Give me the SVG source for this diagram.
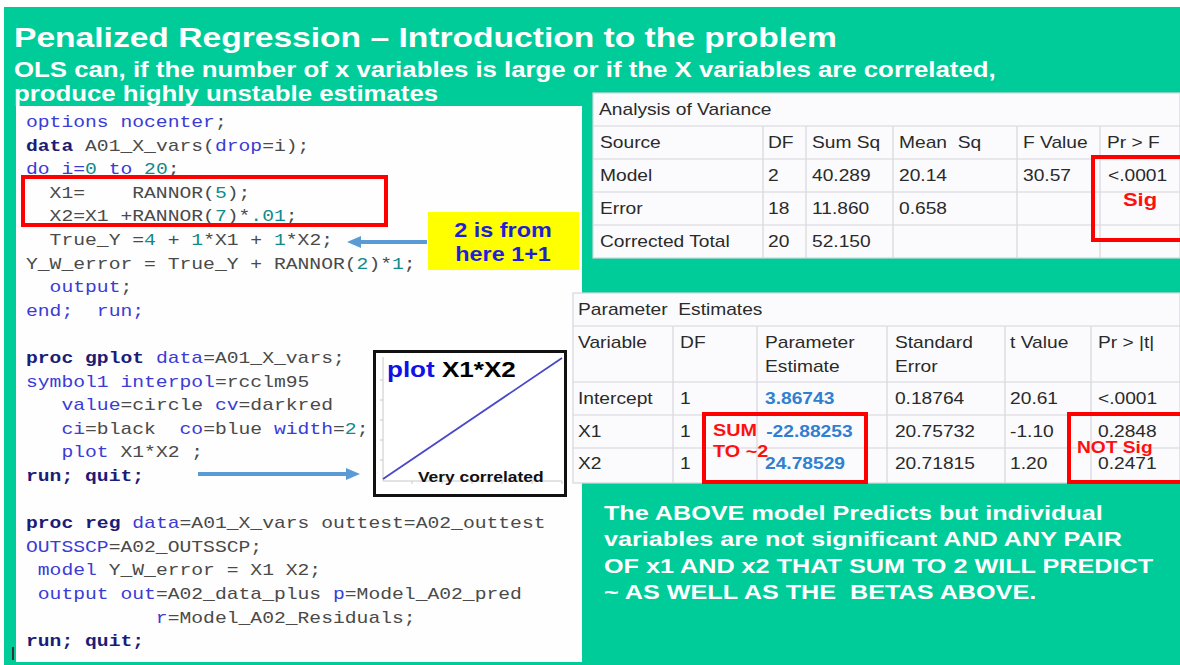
<svg xmlns="http://www.w3.org/2000/svg" width="1180" height="665" viewBox="0 0 1180 665">
<defs>
<style>
.ttl{font-family:"Liberation Sans",Arial,sans-serif;font-weight:bold;fill:#ffffff}
.code{font-family:"Liberation Mono","Courier New",monospace;font-size:16.4px;fill:#4a4a4a}
.kw{fill:#3b3bd6}
.nm{fill:#128a8a}
.bk{fill:#1c1c78;font-weight:bold}
.tb{font-family:"Liberation Sans",Arial,sans-serif;font-size:16px;fill:#2a2a2a}
.bv{fill:#2f80d0;font-weight:bold}
.red{font-family:"Liberation Sans",Arial,sans-serif;font-weight:bold;fill:#ff1010}
.grid{stroke:#d6d6dc;stroke-width:1.2;fill:none}
.rbox{fill:none;stroke:#ff0000;stroke-width:4}
.arr{stroke:#5b9bd5;stroke-width:4;fill:none}
.ax{stroke:#c8c8c8;stroke-width:1;fill:none}
</style>
<marker id="ah" viewBox="0 0 14 12" refX="0" refY="6" markerWidth="14" markerHeight="12" markerUnits="userSpaceOnUse" orient="auto">
<path d="M0,0 L14,6 L0,12 Z" fill="#5b9bd5"/>
</marker>
</defs>

<rect x="0" y="0" width="1180" height="665" fill="#ffffff"/>
<rect x="4" y="7" width="1176" height="658" fill="#00cc99"/>

<g id="title">
<g transform="scale(1.2 1)">
<text class="ttl" x="11.67" y="47" font-size="28">Penalized Regression – Introduction to the problem</text>
<text class="ttl" x="11.67" y="77" font-size="21.5">OLS can, if the number of x variables is large or if the X variables are correlated,</text>
<text class="ttl" x="11.67" y="101" font-size="21.5">produce highly unstable estimates</text>
</g>
</g>

<g id="code-panel">
<rect x="16" y="106" width="566" height="556" fill="#fefefe"/>
<rect x="12" y="647" width="2" height="13" fill="#333333"/>
<g transform="scale(1.2 1)">
<text class="code" xml:space="preserve" x="21.67" y="127"><tspan class="kw">options nocenter</tspan>;</text>
<text class="code" xml:space="preserve" x="21.67" y="150.6"><tspan class="bk">data</tspan> A01_X_vars(<tspan class="kw">drop</tspan>=i);</text>
<text class="code" xml:space="preserve" x="21.67" y="174.2"><tspan class="kw">do i=</tspan><tspan class="nm">0</tspan> <tspan class="kw">to</tspan> <tspan class="nm">20</tspan>;</text>
<text class="code" xml:space="preserve" x="21.67" y="197.8">  X1=    RANNOR(<tspan class="nm">5</tspan>);</text>
<text class="code" xml:space="preserve" x="21.67" y="221.4">  X2=X1 +RANNOR(<tspan class="nm">7</tspan>)*<tspan class="nm">.01</tspan>;</text>
<text class="code" xml:space="preserve" x="21.67" y="245">  True_Y =<tspan class="nm">4</tspan> + <tspan class="nm">1</tspan>*X1 + <tspan class="nm">1</tspan>*X2;</text>
<text class="code" xml:space="preserve" x="21.67" y="268.6">Y_W_error = True_Y + RANNOR(<tspan class="nm">2</tspan>)*<tspan class="nm">1</tspan>;</text>
<text class="code" xml:space="preserve" x="21.67" y="292.2">  <tspan class="kw">output</tspan>;</text>
<text class="code" xml:space="preserve" x="21.67" y="315.8"><tspan class="kw">end;  run;</tspan></text>
<text class="code" xml:space="preserve" x="21.67" y="363"><tspan class="bk">proc gplot</tspan> <tspan class="kw">data</tspan>=A01_X_vars;</text>
<text class="code" xml:space="preserve" x="21.67" y="386.6"><tspan class="kw">symbol1 interpol</tspan>=rcclm95</text>
<text class="code" xml:space="preserve" x="21.67" y="410.2">   <tspan class="kw">value</tspan>=circle <tspan class="kw">cv</tspan>=darkred</text>
<text class="code" xml:space="preserve" x="21.67" y="433.8">   <tspan class="kw">ci</tspan>=black  <tspan class="kw">co</tspan>=blue <tspan class="kw">width</tspan>=<tspan class="nm">2</tspan>;</text>
<text class="code" xml:space="preserve" x="21.67" y="457.4">   <tspan class="kw">plot</tspan> X1*X2 ;</text>
<text class="code" xml:space="preserve" x="21.67" y="481"><tspan class="bk">run; quit;</tspan></text>
<text class="code" xml:space="preserve" x="21.67" y="528.2"><tspan class="bk">proc reg</tspan> <tspan class="kw">data</tspan>=A01_X_vars outtest=A02_outtest</text>
<text class="code" xml:space="preserve" x="21.67" y="551.8"><tspan class="kw">OUTSSCP</tspan>=A02_OUTSSCP;</text>
<text class="code" xml:space="preserve" x="21.67" y="575.4"> <tspan class="kw">model</tspan> Y_W_error = X1 X2;</text>
<text class="code" xml:space="preserve" x="21.67" y="599"> <tspan class="kw">output out</tspan>=A02_data_plus <tspan class="kw">p</tspan>=Model_A02_pred</text>
<text class="code" xml:space="preserve" x="21.67" y="622.6">           <tspan class="kw">r</tspan>=Model_A02_Residuals;</text>
<text class="code" xml:space="preserve" x="21.67" y="646.2"><tspan class="bk">run; quit;</tspan></text>
</g>
<rect class="rbox" x="23" y="177" width="363" height="48"/>
</g>

<g id="note-2-from">
<rect x="428" y="212" width="151" height="58" fill="#ffff00"/>
<g transform="scale(1.2 1)">
<text x="419.2" y="237" text-anchor="middle" font-family="Liberation Sans, Arial, sans-serif" font-weight="bold" font-size="19.5" fill="#1f1fd6">2 is from</text>
<text x="419.2" y="261" text-anchor="middle" font-family="Liberation Sans, Arial, sans-serif" font-weight="bold" font-size="19.5" fill="#1f1fd6">here 1+1</text>
</g>
</g>

<g id="plot-box">
<rect x="374.5" y="351.5" width="191" height="144" fill="#ffffff" stroke="#111111" stroke-width="3"/>
<path class="ax" d="M383,357 V481 H562"/>
<path class="ax" d="M380,380 H383 M380,400 H383 M380,420 H383 M380,440 H383 M380,460 H383 M412,481 V484 M442,481 V484 M472,481 V484 M502,481 V484 M532,481 V484 M562,481 V484"/>
<line x1="383" y1="479" x2="562" y2="358" stroke="#4848c8" stroke-width="1.8"/>
<g transform="scale(1.2 1)">
<text x="322.5" y="377" font-family="Liberation Sans, Arial, sans-serif" font-weight="bold" font-size="21.7" fill="#000000"><tspan fill="#1010e8">plot</tspan> X1*X2</text>
<text x="348.3" y="482" font-family="Liberation Sans, Arial, sans-serif" font-weight="bold" font-size="14.5" fill="#111111">Very correlated</text>
</g>
</g>

<g id="anova-table">
<rect x="593" y="93" width="587" height="165" fill="#fbfbfd" stroke="#d6d6dc" stroke-width="1.2"/>
<path class="grid" d="M593,126 H1180 M593,159 H1180 M593,192 H1180 M593,225 H1180 M763,126 V258 M806,126 V258 M893,126 V258 M1017,126 V258 M1100,126 V258"/>
<g transform="scale(1.2 1)" class="tb">
<text x="499.2" y="115">Analysis of Variance</text>
<text x="500" y="148">Source</text>
<text x="640" y="148">DF</text>
<text x="676.7" y="148">Sum  Sq</text>
<text x="749.2" y="148" xml:space="preserve">Mean  Sq</text>
<text x="852.5" y="148">F Value</text>
<text x="922.5" y="148">Pr &gt; F</text>
<text x="500" y="181">Model</text>
<text x="640" y="181">2</text>
<text x="676.7" y="181">40.289</text>
<text x="749.2" y="181">20.14</text>
<text x="852.5" y="181">30.57</text>
<text x="923.3" y="181">&lt;.0001</text>
<text x="500" y="214">Error</text>
<text x="640" y="214">18</text>
<text x="676.7" y="214">11.860</text>
<text x="749.2" y="214">0.658</text>
<text x="500" y="247">Corrected Total</text>
<text x="640" y="247">20</text>
<text x="676.7" y="247">52.150</text>
<text class="red" x="935.8" y="206" font-size="18.3">Sig</text>
</g>
<rect class="rbox" x="1093" y="157" width="95" height="83"/>
</g>

<g id="param-table">
<rect x="573" y="293" width="607" height="190" fill="#fbfbfd" stroke="#d6d6dc" stroke-width="1.2"/>
<path class="grid" d="M573,326 H1180 M573,382 H1180 M573,415 H1180 M573,448 H1180 M673,326 V483 M757,326 V483 M887,326 V483 M1005,326 V483 M1091,326 V483"/>
<g transform="scale(1.2 1)" class="tb">
<text x="481.7" y="315" xml:space="preserve">Parameter  Estimates</text>
<text x="481.7" y="348">Variable</text>
<text x="566.7" y="348">DF</text>
<text x="637.5" y="348">Parameter</text>
<text x="637.5" y="372">Estimate</text>
<text x="745.8" y="348">Standard</text>
<text x="745.8" y="372">Error</text>
<text x="841.7" y="348">t Value</text>
<text x="915" y="348">Pr &gt; |t|</text>
<text x="481.7" y="404">Intercept</text>
<text x="566.7" y="404">1</text>
<text class="bv" x="637.5" y="404">3.86743</text>
<text x="745.8" y="404">0.18764</text>
<text x="841.7" y="404">20.61</text>
<text x="915" y="404">&lt;.0001</text>
<text x="481.7" y="437">X1</text>
<text x="566.7" y="437">1</text>
<text class="bv" x="638.5" y="437">-22.88253</text>
<text x="745.8" y="437">20.75732</text>
<text x="841.7" y="437">-1.10</text>
<text x="915" y="437">0.2848</text>
<text x="481.7" y="469">X2</text>
<text x="566.7" y="469">1</text>
<text class="bv" x="637.5" y="469">24.78529</text>
<text x="745.8" y="469">20.71815</text>
<text x="841.7" y="469">1.20</text>
<text x="915" y="469">0.2471</text>
<text class="red" x="594.2" y="436" font-size="16.5">SUM</text>
<text class="red" x="594.2" y="457" font-size="16.5">TO ~2</text>
<text class="red" x="897.5" y="453" font-size="16">NOT Sig</text>
</g>
<rect class="rbox" x="704" y="414" width="162" height="68"/>
<rect class="rbox" x="1069" y="414" width="120" height="68"/>
</g>

<g id="conclusion">
<g transform="scale(1.2 1)" class="ttl" font-size="21">
<text x="503.3" y="520">The ABOVE model Predicts but individual</text>
<text x="503.3" y="546">variables are not significant AND ANY PAIR</text>
<text x="503.3" y="573">OF x1 AND x2 THAT SUM TO 2 WILL PREDICT</text>
<text x="503.3" y="599" xml:space="preserve">~ AS WELL AS THE  BETAS ABOVE.</text>
</g>
</g>

<g id="connectors">
<line class="arr" x1="427" y1="242" x2="361" y2="242" marker-end="url(#ah)"/>
<line class="arr" x1="198" y1="474" x2="346" y2="474" marker-end="url(#ah)"/>
</g>
</svg>
